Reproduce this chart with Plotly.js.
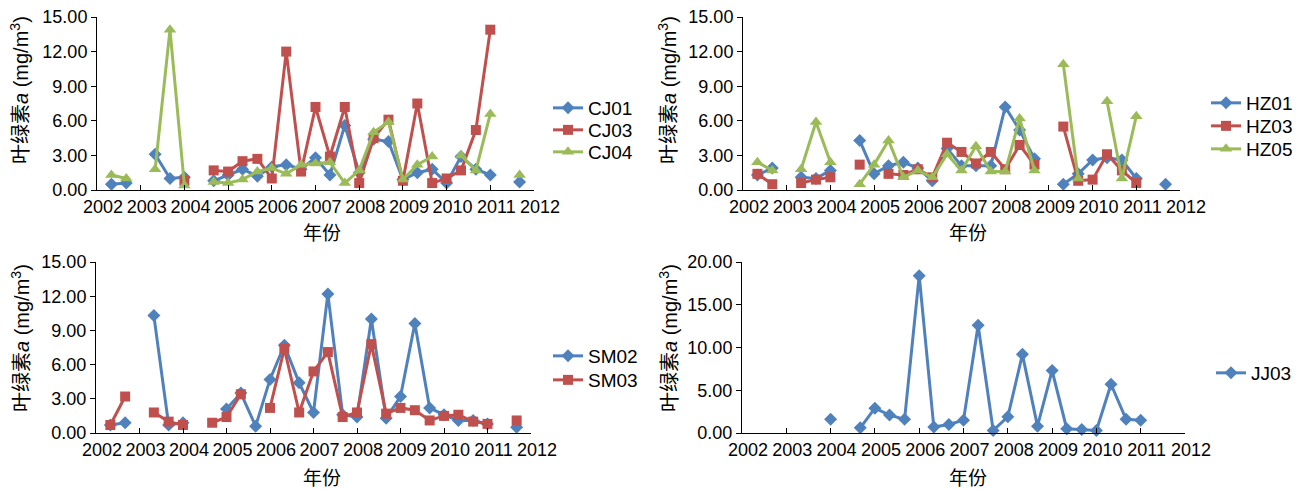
<!DOCTYPE html>
<html>
<head>
<meta charset="utf-8">
<script src="https://cdn.plot.ly/plotly-3.0.1.min.js"></script>
<style>html,body{margin:0;padding:0;background:#fff;}#chart{width:1310px;height:490px;}</style>
</head>
<body>
<div id="chart"></div>
<script>
// sampling times (decimal years, three surveys per year)
const sampleTime = [2002.33, 2002.67, 2003.00, 2003.33, 2003.67, 2004.00, 2004.33, 2004.67, 2005.00, 2005.33,
                    2005.67, 2006.00, 2006.33, 2006.67, 2007.00, 2007.33, 2007.67, 2008.00, 2008.33, 2008.67,
                    2009.00, 2009.33, 2009.67, 2010.00, 2010.33, 2010.67, 2011.00, 2011.33, 2011.67];
const yearTicks = [2002, 2003, 2004, 2005, 2006, 2007, 2008, 2009, 2010, 2011, 2012];
const yearLabels = ["2002", "2003", "2004", "2005", "2006", "2007", "2008", "2009", "2010", "2011", "2012"];

// Chlorophyll a, mg/m3
const CJ01 = [0.5, 0.6, null, 3.1, 1.0, 1.1, null, 0.8, 1.3, 1.8, 1.2, 2.0, 2.2, 1.8, 2.8, 1.3, 5.6, 1.5, 4.4, 4.2, 0.9, 1.5, 1.8, 0.6, 2.9, 1.8, 1.3, null, 0.7];
const CJ03 = [null, null, null, null, null, 0.8, null, 1.7, 1.6, 2.5, 2.7, 1.0, 12.0, 1.6, 7.2, 2.9, 7.2, 0.6, 4.5, 6.1, 0.8, 7.5, 0.6, 1.0, 1.7, 5.2, 13.9, null, null];
const CJ04 = [1.3, 1.0, null, 1.8, 13.9, 0.4, null, 0.7, 0.6, 0.9, 1.6, 1.9, 1.4, 2.2, 2.3, 2.4, 0.6, 1.7, 5.0, 5.9, 0.9, 2.2, 2.9, null, 3.0, 1.7, 6.6, null, 1.3];

const HZ01 = [1.3, 1.9, null, 1.1, 1.0, 1.7, null, 4.3, 1.4, 2.1, 2.4, 1.9, 0.8, 3.6, 2.1, 2.1, 2.1, 7.2, 5.2, 2.7, null, 0.5, 1.4, 2.6, 2.8, 2.6, 1.0, null, 0.5];
const HZ03 = [1.4, 0.5, null, 0.6, 0.9, 1.1, null, 2.2, null, 1.4, 1.3, 1.8, 1.1, 4.1, 3.3, 2.3, 3.3, 1.8, 3.9, 2.2, null, 5.5, 0.8, 0.9, 3.1, 1.7, 0.6, null, null];
const HZ05 = [2.4, 1.7, null, 1.8, 5.9, 2.4, null, 0.5, 2.2, 4.3, 1.1, 1.7, 1.1, 3.1, 1.7, 3.8, 1.6, 1.6, 6.2, 1.7, null, 10.9, 1.0, null, 7.7, 1.0, 6.4, null, null];

const SM02 = [0.7, 0.9, null, 10.3, 0.7, 0.9, null, null, 2.1, 3.5, 0.6, 4.7, 7.7, 4.4, 1.8, 12.2, 1.6, 1.4, 10.0, 1.3, 3.2, 9.6, 2.2, 1.6, 1.1, 1.1, 0.8, null, 0.5];
const SM03 = [0.7, 3.2, null, 1.8, 1.0, 0.7, null, 0.9, 1.4, 3.4, null, 2.2, 7.4, 1.8, 5.4, 7.1, 1.4, 1.8, 7.8, 1.7, 2.2, 2.0, 1.1, 1.5, 1.6, 1.0, 0.8, null, 1.1];

const JJ03 = [null, null, null, null, null, 1.6, null, 0.6, 2.9, 2.1, 1.6, 18.4, 0.7, 1.0, 1.5, 12.6, 0.3, 1.9, 9.2, 0.8, 7.3, 0.5, 0.4, 0.3, 5.7, 1.6, 1.5, null, null];

const yTicks15 = [0, 3, 6, 9, 12, 15];
const yTicks20 = [0, 5, 10, 15, 20];

const BLUE = '#4F81BD', RED = '#C0504D', GREEN = '#9BBB59';
const FONT = 'Liberation Sans, Arial, Noto Sans CJK SC, sans-serif';
const CJK = 'Liberation Sans, Arial, Noto Sans CJK SC, sans-serif';

function tr(name, y, color, symbol, size, xa, ya, lg) {
  return {
    type: 'scatter', mode: 'lines+markers', name: name,
    x: sampleTime, y: y, xaxis: xa, yaxis: ya, legend: lg,
    line: {color: color, width: 3},
    marker: {color: color, symbol: symbol, size: size},
    connectgaps: false, cliponaxis: false
  };
}

const traces = [
  tr('CJ01', CJ01, BLUE, 'diamond', 10, 'x', 'y', 'legend'),
  tr('CJ03', CJ03, RED, 'square', 10, 'x', 'y', 'legend2'),
  tr('CJ04', CJ04, GREEN, 'triangle-up', 11, 'x', 'y', 'legend3'),
  tr('HZ01', HZ01, BLUE, 'diamond', 10, 'x2', 'y2', 'legend4'),
  tr('HZ03', HZ03, RED, 'square', 10, 'x2', 'y2', 'legend5'),
  tr('HZ05', HZ05, GREEN, 'triangle-up', 11, 'x2', 'y2', 'legend6'),
  tr('SM02', SM02, BLUE, 'diamond', 10, 'x3', 'y3', 'legend7'),
  tr('SM03', SM03, RED, 'square', 10, 'x3', 'y3', 'legend8'),
  tr('JJ03', JJ03, BLUE, 'diamond', 10, 'x4', 'y4', 'legend9')
];

const W = 1310, H = 490;
const px = v => v / W, py = v => 1 - v / H;

function xax(d, anchor) {
  return {
    domain: d, anchor: anchor, range: [2002, 2012],
    tickmode: 'array', tickvals: yearTicks, ticktext: yearLabels,
    ticks: 'inside', ticklen: 5, tickcolor: '#000', tickwidth: 1,
    showline: true, linecolor: '#000', linewidth: 1.3,
    showgrid: false, zeroline: false, ticklabelshift: 6,
    tickfont: {family: FONT, size: 18, color: '#000'}
  };
}
function yax(d, anchor, rng, tv) {
  return {
    domain: d, anchor: anchor, range: rng,
    tickmode: 'array', tickvals: tv, tickformat: '.2f',
    ticks: 'outside', ticklen: 5, tickcolor: '#000', tickwidth: 1,
    showline: true, linecolor: '#000', linewidth: 1,
    showgrid: false, zeroline: false,
    tickfont: {family: FONT, size: 18, color: '#000'}
  };
}
function lg(xpix, ypix) {
  return {x: px(xpix), y: py(ypix), xanchor: 'left', yanchor: 'middle',
          bgcolor: 'rgba(0,0,0,0)', borderwidth: 0,
          font: {family: FONT, size: 19, color: '#000'}};
}
function ytitle(xpix, ypix) {
  return {text: '叶绿素<i>a</i> (mg/m<sup>3</sup>)', xref: 'paper', yref: 'paper',
          x: px(xpix), y: py(ypix), xanchor: 'center', yanchor: 'middle',
          textangle: -90, showarrow: false, font: {family: CJK, size: 20, color: '#000'}};
}
function xtitle(xpix, ypix) {
  return {text: '年份', xref: 'paper', yref: 'paper', x: px(xpix), y: py(ypix),
          xanchor: 'center', yanchor: 'middle', showarrow: false,
          font: {family: CJK, size: 19, color: '#000'}};
}

const topY = [py(190), py(17)];
const botY = [py(433), py(262)];

const layout = {
  width: W, height: H, margin: {l: 0, r: 0, t: 0, b: 0},
  paper_bgcolor: '#fff', plot_bgcolor: '#fff',
  xaxis: xax([px(97), px(534)], 'y'),
  yaxis: yax(topY, 'x', [0, 15], yTicks15),
  xaxis2: xax([px(743), px(1180)], 'y2'),
  yaxis2: yax(topY, 'x2', [0, 15], yTicks15),
  xaxis3: xax([px(96), px(531)], 'y3'),
  yaxis3: yax(botY, 'x3', [0, 15], yTicks15),
  xaxis4: xax([px(742), px(1185)], 'y4'),
  yaxis4: yax(botY, 'x4', [0, 20], yTicks20),
  legend: lg(548, 108), legend2: lg(548, 130), legend3: lg(548, 152),
  legend4: lg(1206, 103), legend5: lg(1206, 126), legend6: lg(1206, 149),
  legend7: lg(548, 356), legend8: lg(548, 380),
  legend9: lg(1211, 373),
  annotations: [
    ytitle(20, 90), ytitle(668, 90), ytitle(20, 338), ytitle(668, 338),
    xtitle(322, 234), xtitle(968, 234), xtitle(322, 478), xtitle(968, 478)
  ],
  showlegend: true
};

Plotly.newPlot('chart', traces, layout, {displayModeBar: false, staticPlot: true});
</script>
</body>
</html>
